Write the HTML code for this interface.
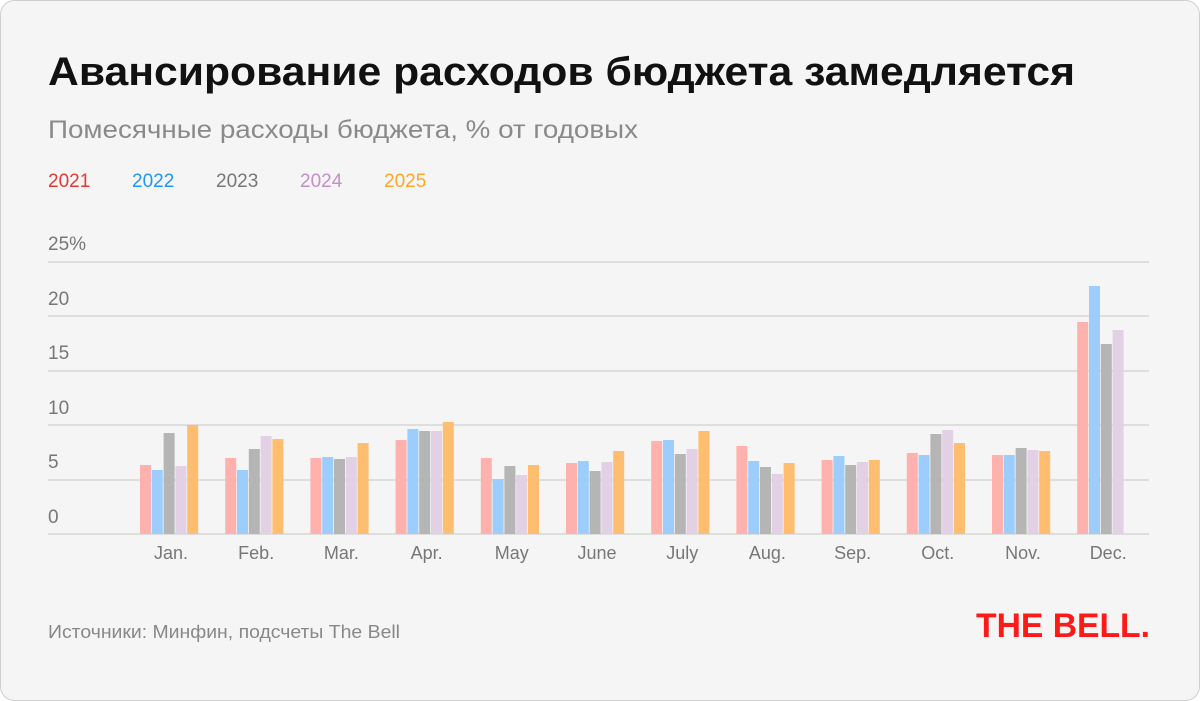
<!DOCTYPE html>
<html><head><meta charset="utf-8"><style>
html,body{margin:0;padding:0;background:#fff;}
svg{display:block;font-family:"Liberation Sans","DejaVu Sans",sans-serif;}
</style></head><body>
<svg width="1200" height="701" viewBox="0 0 1200 701" xmlns="http://www.w3.org/2000/svg">
<rect x="0.5" y="0.5" width="1199" height="700" rx="14" fill="#f5f5f5" stroke="#cfcfcf"/>
<text x="48" y="85" font-size="40" font-weight="bold" fill="#111" textLength="1027" lengthAdjust="spacingAndGlyphs">Авансирование расходов бюджета замедляется</text>
<text x="48" y="138" font-size="25" fill="#8a8a8a" textLength="590" lengthAdjust="spacingAndGlyphs">Помесячные расходы бюджета, % от годовых</text>
<g font-size="19">
<text x="48" y="187" fill="#e53935">2021</text>
<text x="132" y="187" fill="#2196f3">2022</text>
<text x="216" y="187" fill="#777">2023</text>
<text x="300" y="187" fill="#c48fc8">2024</text>
<text x="384" y="187" fill="#ffa726">2025</text>
</g>
<g stroke="#d6d6d6" stroke-width="1.5">
<line x1="48" x2="1149" y1="262" y2="262"/>
<line x1="48" x2="1149" y1="316" y2="316"/>
<line x1="48" x2="1149" y1="371" y2="371"/>
<line x1="48" x2="1149" y1="425" y2="425"/>
<line x1="48" x2="1149" y1="480" y2="480"/>
<line x1="48" x2="1149" y1="534" y2="534"/>
</g>
<g font-size="19" fill="#777">
<text x="48" y="250">25%</text>
<text x="48" y="305">20</text>
<text x="48" y="359">15</text>
<text x="48" y="414">10</text>
<text x="48" y="468">5</text>
<text x="48" y="523">0</text>
</g>
<g id="bars"></g>
<g font-size="18" fill="#777" text-anchor="middle" id="labels"></g>
<text x="48" y="638" font-size="18" fill="#888" textLength="352" lengthAdjust="spacingAndGlyphs">Источники: Минфин, подсчеты The Bell</text>
<text x="976" y="637" font-size="34" font-weight="bold" fill="#ff1a1a" textLength="174" lengthAdjust="spacingAndGlyphs">THE BELL.</text>
<script>
var tops=[[465,470,433,466,425],[458,470,449,436,439],[458,457,459,457,443],[440,429,431,431,422],[458,479,466,475,465],[463,461,471,462,451],[441,440,454,449,431],[446,461,467,474,463],[460,456,465,462,460],[453,455,434,430,443],[455,455,448,450,451],[322,286,344,330,null]];
var cols=["#ffb1ae","#9dcdfd","#b5b5b5","#e2d0e4","#ffbe6f"];
var names=["Jan.","Feb.","Mar.","Apr.","May","June","July","Aug.","Sep.","Oct.","Nov.","Dec."];
var ns="http://www.w3.org/2000/svg",b=document.getElementById("bars"),l=document.getElementById("labels");
for(var i=0;i<12;i++){var x0=140+85.2*i;
for(var j=0;j<5;j++){var t=tops[i][j];if(t==null)continue;var r=document.createElementNS(ns,"rect");
r.setAttribute("x",x0+j*11.8);r.setAttribute("y",t);r.setAttribute("width",11);r.setAttribute("height",534-t);r.setAttribute("fill",cols[j]);b.appendChild(r);}
var tx=document.createElementNS(ns,"text");tx.setAttribute("x",x0+31);tx.setAttribute("y",559);tx.textContent=names[i];l.appendChild(tx);}
</script>
</svg>
</body></html>
